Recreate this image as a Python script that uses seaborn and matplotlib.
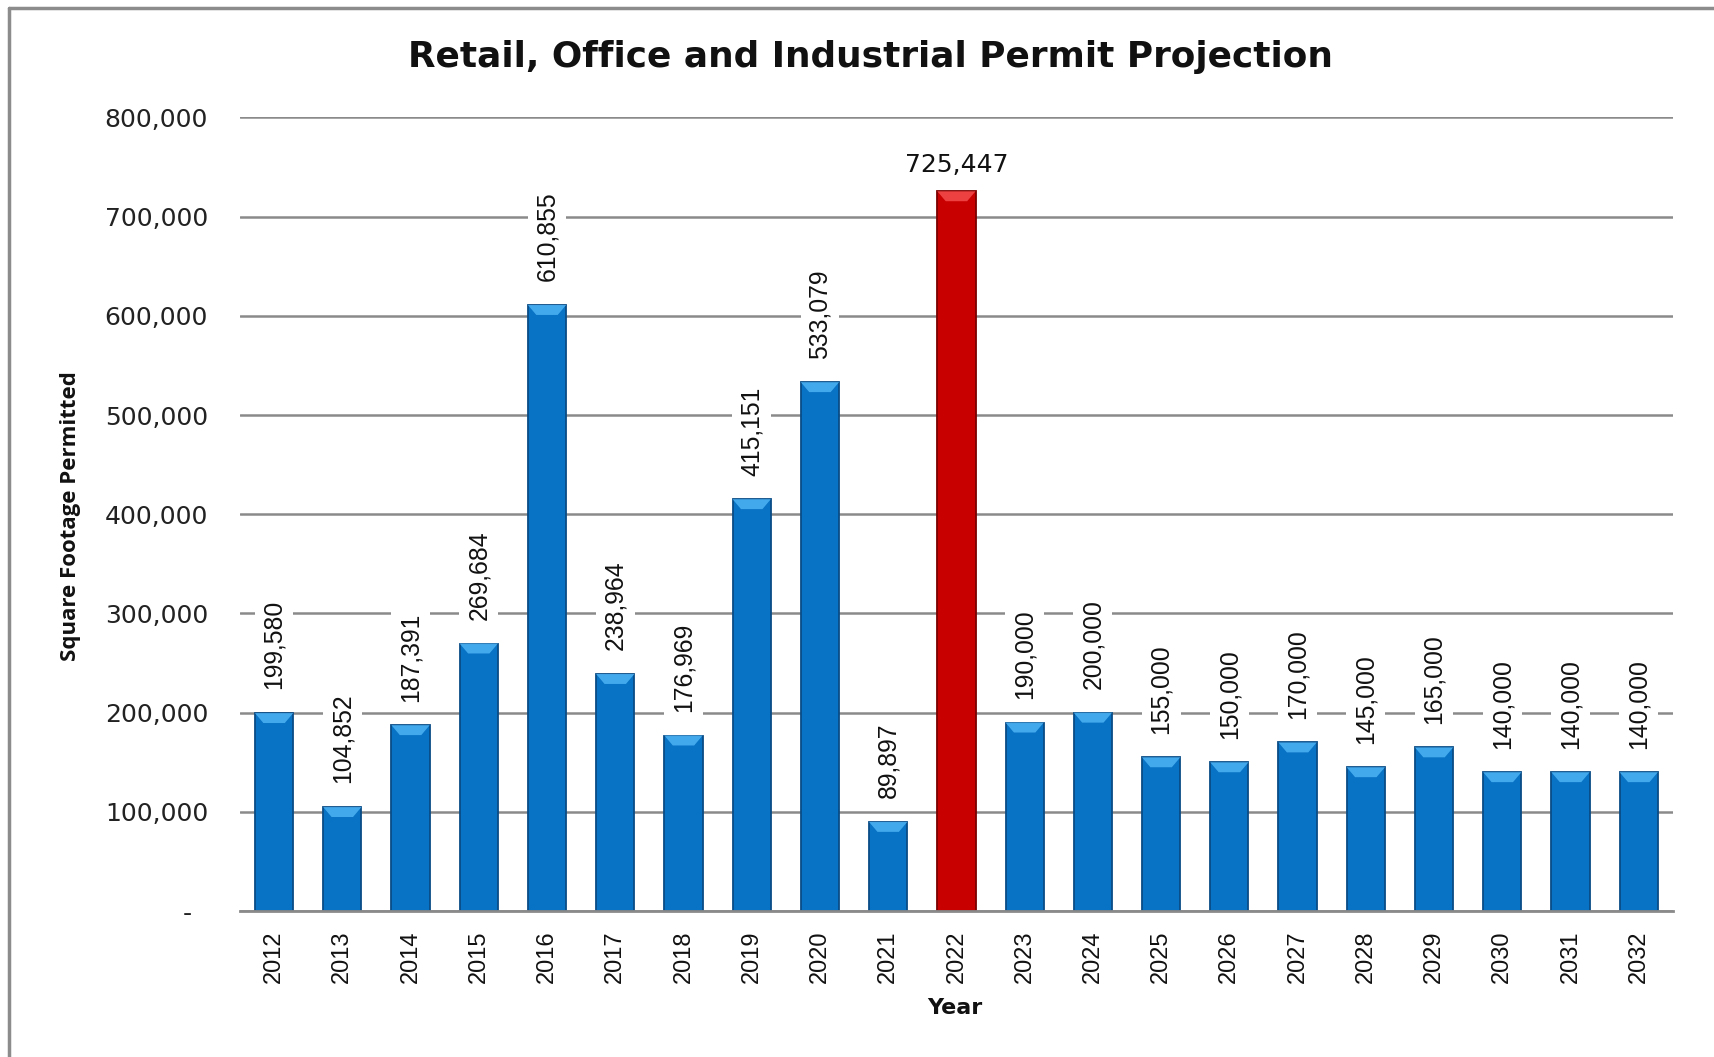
import numpy as np
import pandas as pd
import matplotlib
matplotlib.use("Agg")
import matplotlib.pyplot as plt
import seaborn as sns
from matplotlib.lines import Line2D
from matplotlib.patches import Polygon

years = ["2012", "2013", "2014", "2015", "2016", "2017", "2018", "2019", "2020", "2021", "2022",
         "2023", "2024", "2025", "2026", "2027", "2028", "2029", "2030", "2031", "2032"]
values = [199580, 104852, 187391, 269684, 610855, 238964, 176969, 415151, 533079, 89897, 725447,
          190000, 200000, 155000, 150000, 170000, 145000, 165000, 140000, 140000, 140000]
highlight_year = "2022"
yticks = [0, 100000, 200000, 300000, 400000, 500000, 600000, 700000, 800000]
ytick_labels = ["-  ", "100,000", "200,000", "300,000", "400,000", "500,000", "600,000", "700,000", "800,000"]

title = "Retail, Office and Industrial Permit Projection"
ylabel = "Square Footage Permitted"
xlabel = "Year"

BLUE = "#0872C4"
BLUE_EDGE = "#0A4C86"
BLUE_TOP = "#4AB0F2"
RED = "#C80000"
RED_EDGE = "#7A0000"
RED_TOP = "#F24848"
GRID = "#8A8A8A"

sns.set_theme(style="white")
plt.rcParams["font.family"] = ["DejaVu Sans"]

fig = plt.figure(figsize=(17.14, 10.57), dpi=100)
ax = fig.add_axes([0.140, 0.138, 0.836, 0.751])

BAR_W = 0.56
df = pd.DataFrame({"Year": years, "Value": values})
colors = {y: (RED if y == highlight_year else BLUE) for y in years}
sns.barplot(data=df, x="Year", y="Value", hue="Year", palette=colors, legend=False,
            width=BAR_W, ax=ax, zorder=3, saturation=1)

for p, y in zip(ax.patches, years):
    p.set_edgecolor(RED_EDGE if y == highlight_year else BLUE_EDGE)
    p.set_linewidth(1.3)

# bevel highlight (trapezoid) on top of each bar, derived from the data values
xs = np.arange(len(years))
bevel_h = 10000
inset = BAR_W * 0.22
for x, v, y in zip(xs, values, years):
    c = RED_TOP if y == highlight_year else BLUE_TOP
    pts = [(x - BAR_W / 2, v), (x + BAR_W / 2, v),
           (x + BAR_W / 2 - inset, v - bevel_h), (x - BAR_W / 2 + inset, v - bevel_h)]
    ax.add_patch(Polygon(pts, closed=True, facecolor=c, edgecolor="none", zorder=4, alpha=0.9))

ax.set_ylim(0, 800000)
ax.set_xlim(-0.5, len(years) - 0.5)
ax.set_yticks(yticks)
ax.set_yticklabels(ytick_labels)
ax.yaxis.grid(True, color=GRID, linewidth=1.8, zorder=0)
ax.set_axisbelow(True)
for s in ["left", "right", "top"]:
    ax.spines[s].set_visible(False)
ax.spines["bottom"].set_color(GRID)
ax.spines["bottom"].set_linewidth(2)
ax.spines["bottom"].set_zorder(5)

ax.tick_params(axis="y", length=0, pad=23, labelsize=18, labelcolor="#222222")
ax.tick_params(axis="x", length=0, pad=14, labelsize=17, labelcolor="#111111")
for lab in ax.get_xticklabels():
    lab.set_rotation(90)
    lab.set_fontfamily(["Liberation Sans", "DejaVu Sans"])
ax.set_xlabel("")
ax.set_ylabel("")

for x, v, y in zip(xs, values, years):
    lbl = f"{v:,}"
    if y == highlight_year:
        ax.annotate(lbl, (x, v), xytext=(0, 10), textcoords="offset points",
                    ha="center", va="bottom", fontsize=18, color="#111111",
                    bbox=dict(boxstyle="square,pad=0.3", fc="white", ec="none"), zorder=6)
    else:
        ax.annotate(lbl, (x, v), xytext=(0, 17), textcoords="offset points",
                    ha="center", va="bottom", rotation=90, fontsize=17.8, color="#111111",
                    family=["Liberation Sans", "DejaVu Sans"],
                    bbox=dict(boxstyle="square,pad=0.3", fc="white", ec="none"), zorder=6)

fig.text(0.508, 0.946, title, ha="center", va="center", fontsize=25.8, fontweight="bold", color="#111111")
fig.text(0.041, 0.512, ylabel, ha="center", va="center", rotation=90, fontsize=16, fontweight="bold",
         color="#111111", family=["Open Sans", "DejaVu Sans"])
fig.text(0.557, 0.046, xlabel, ha="center", va="center", fontsize=16, fontweight="bold", color="#111111")

# partial frame (left and top edges)
fig.add_artist(Line2D([9 / 1714, 9 / 1714], [0, 1 - 8 / 1057], transform=fig.transFigure, color="#8C8C8C", linewidth=2.5))
fig.add_artist(Line2D([9 / 1714, 1], [1 - 8 / 1057, 1 - 8 / 1057], transform=fig.transFigure, color="#8C8C8C", linewidth=2.5))

fig.savefig("out.png", dpi=100, facecolor="white")
